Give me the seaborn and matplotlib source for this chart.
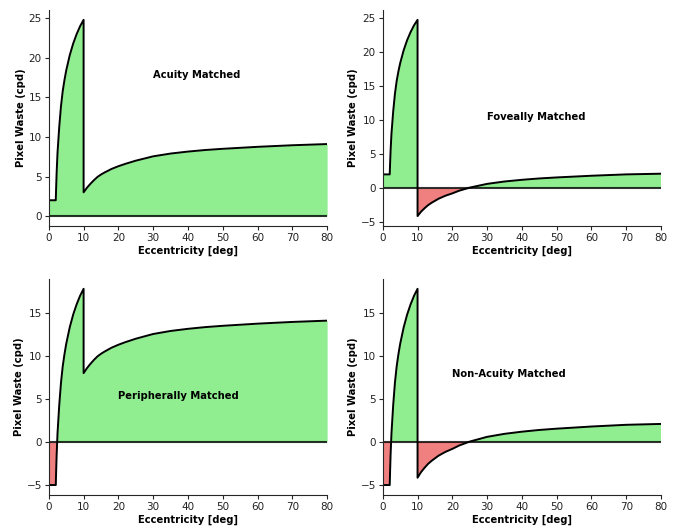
import numpy as np
import matplotlib
matplotlib.use("Agg")
import matplotlib.pyplot as plt
import seaborn as sns

# eccentricity samples (deg)
ecc_rise = [0, 2.0, 2.1, 2.25, 2.5, 3.0, 3.5, 4.0, 4.5, 5.0, 6.0, 7.0, 8.0, 9.0, 10.0]
ecc_fall = [10, 11, 12, 13, 14, 15, 16, 18, 20, 22, 25, 30, 35, 40, 45, 50, 60, 70, 80]

# pixel waste (cpd) inside the fovea region
top_rise = [2, 2, 3.5, 5.5, 8.0, 11.3, 13.9, 15.8, 17.2, 18.4, 20.3, 21.8, 23.0, 24.0, 24.8]
bottom_rise = [-5, -5, -3.5, -1.5, 1.0, 4.3, 6.9, 8.8, 10.2, 11.4, 13.3, 14.8, 16.0, 17.0, 17.8]

# pixel waste (cpd) outside 10 deg
acuity_fall = [3.0, 3.6, 4.1, 4.55, 4.95, 5.25, 5.5, 5.95, 6.3, 6.6, 7.0, 7.55, 7.9, 8.15,
               8.35, 8.5, 8.75, 8.95, 9.1]
foveal_fall = [-4.15, -3.5, -3.0, -2.55, -2.2, -1.9, -1.6, -1.15, -0.8, -0.4, 0.05, 0.6, 0.95,
               1.2, 1.4, 1.55, 1.8, 2.0, 2.1]
periph_fall = [8.0, 8.6, 9.1, 9.55, 9.95, 10.25, 10.5, 10.95, 11.3, 11.6, 12.0, 12.55, 12.9,
               13.15, 13.35, 13.5, 13.75, 13.95, 14.1]
nonacuity_fall = [-4.15, -3.5, -3.0, -2.55, -2.2, -1.9, -1.6, -1.15, -0.8, -0.4, 0.05, 0.6, 0.95,
                  1.2, 1.4, 1.55, 1.8, 2.0, 2.1]

titles = ["Acuity Matched", "Foveally Matched", "Peripherally Matched", "Non-Acuity Matched"]

sns.set_style("ticks")

fig, axes = plt.subplots(2, 2, figsize=(6.78, 5.27), dpi=100)
fig.subplots_adjust(left=0.072, right=0.975, top=0.981, bottom=0.061, wspace=0.2, hspace=0.246)

panels = [
    (axes[0, 0], top_rise, acuity_fall, (30, 17.5)),
    (axes[0, 1], top_rise, foveal_fall, (30, 10)),
    (axes[1, 0], bottom_rise, periph_fall, (20, 5)),
    (axes[1, 1], bottom_rise, nonacuity_fall, (20, 7.5)),
]

for (ax, rise, fall, pos), title in zip(panels, titles):
    x = np.array(ecc_rise + ecc_fall)
    y = np.array(rise + fall)
    ax.fill_between(x, y, 0, where=y >= 0, interpolate=True, color="lightgreen", lw=0)
    ax.fill_between(x, y, 0, where=y <= 0, interpolate=True, color="lightcoral", lw=0)
    sns.lineplot(x=x, y=y, ax=ax, estimator=None, sort=False, color="k", lw=1.4)
    ax.axhline(0, color="k", lw=1.5, alpha=0.8)
    ax.set_xlim(0, 80)
    ax.set_xlabel("Eccentricity [deg]", fontsize=7.2, fontweight="bold", color="k", labelpad=2)
    ax.set_ylabel("Pixel Waste (cpd)", fontsize=7.2, fontweight="bold", color="k", labelpad=2)
    ax.tick_params(labelsize=7.5, length=3, labelcolor="#222222", pad=2)
    ax.text(pos[0], pos[1], title, fontsize=7.2, fontweight="bold", color="k")
    sns.despine(ax=ax)

fig.savefig("out.png", dpi=100)
